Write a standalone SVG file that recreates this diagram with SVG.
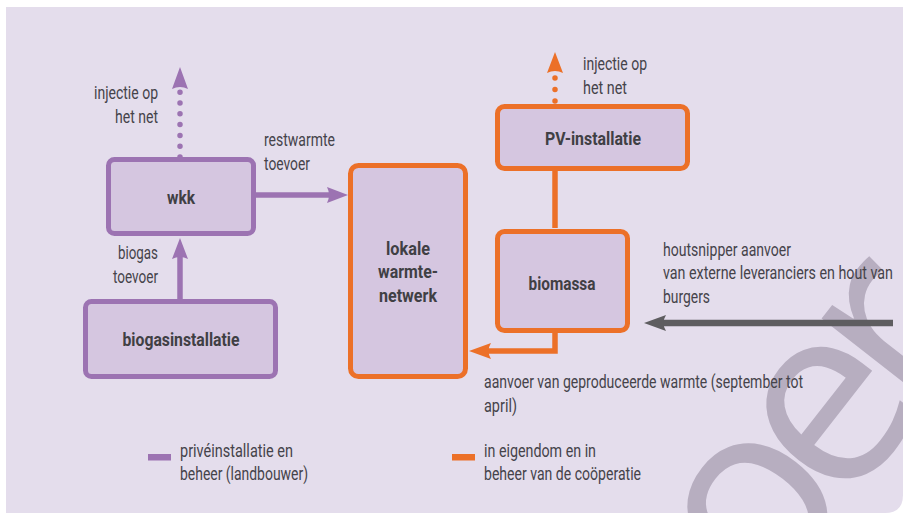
<svg xmlns="http://www.w3.org/2000/svg" width="903" height="513" viewBox="0 0 903 513">
<style>
.t{font-family:Roboto,"Liberation Sans",sans-serif;font-size:19px;fill:#45434a}
.b{font-family:Roboto,"Liberation Sans",sans-serif;font-size:18px;font-weight:bold;fill:#403f44;text-anchor:middle}
.pbox{fill:#d5c6e0;stroke:#9c73b2;stroke-width:5}
.obox{fill:#d5c6e0;stroke:#ec7028;stroke-width:5}
.pl{stroke:#9c73b2;stroke-width:5.5;fill:none}
.ol{stroke:#ec7028;stroke-width:5.5;fill:none}
.pf{fill:#9c73b2}
.of{fill:#ec7028}
</style>
<defs>
<clipPath id="panelClip"><path d="M6,7 H903 V495 Q903,513 885,513 H6 Z"/></clipPath>
</defs>
<rect width="903" height="513" fill="#ffffff"/>
<path d="M6,7 H903 V495 Q903,513 885,513 H6 Z" fill="#e4ddec"/>
<g clip-path="url(#panelClip)">
<text x="764" y="614" transform="rotate(-52 764 614)" font-family="'Open Sans',sans-serif" font-size="255" letter-spacing="-25" fill="#b7aec0">oer</text>
</g>

<g id="connectors">
<line x1="180" y1="157" x2="180" y2="92" stroke="#9c73b2" stroke-width="5.5" stroke-linecap="round" stroke-dasharray="0 10.8"/>
<path class="pf" d="M180,67 L188,89 Q180,85 172,89 Z"/>
<line class="pl" x1="180" y1="299" x2="180" y2="252"/>
<path class="pf" d="M180,238 L188,259 Q180,255 172,259 Z"/>
<line class="pl" x1="256" y1="195" x2="334" y2="195"/>
<path class="pf" d="M348,195 L327,187 Q331,195 327,203 Z"/>
<line x1="555" y1="101" x2="555" y2="77" stroke="#ec7028" stroke-width="5.5" stroke-linecap="round" stroke-dasharray="0 11.5"/>
<path class="of" d="M555,52 L563,73 Q555,69 547,73 Z"/>
<line class="ol" x1="555" y1="171" x2="555" y2="228"/>
<polyline class="ol" points="555,333 555,351 484,351"/>
<path class="of" d="M469,351 L491,343 Q486,351 491,359 Z"/>
<line x1="893" y1="323" x2="658" y2="323" stroke="#5e5d60" stroke-width="6.5"/>
<path d="M644,323 L666,315 Q661,323 666,331 Z" fill="#5e5d60"/>
</g>

<g id="wkk">
<rect class="pbox" x="108.5" y="159.5" width="145" height="74" rx="6"/>
<text class="b" x="181" y="204" textLength="28" lengthAdjust="spacingAndGlyphs">wkk</text>
</g>
<g id="biogasinstallatie">
<rect class="pbox" x="85.5" y="301.5" width="190" height="75" rx="6"/>
<text class="b" x="181" y="346" textLength="117" lengthAdjust="spacingAndGlyphs">biogasinstallatie</text>
</g>
<g id="lokale">
<rect class="obox" x="350.5" y="165.5" width="115" height="211" rx="8"/>
<text class="b" x="408" y="255" textLength="44" lengthAdjust="spacingAndGlyphs">lokale</text>
<text class="b" x="408" y="278" textLength="60" lengthAdjust="spacingAndGlyphs">warmte-</text>
<text class="b" x="408" y="302" textLength="58" lengthAdjust="spacingAndGlyphs">netwerk</text>
</g>
<g id="pv">
<rect class="obox" x="497.5" y="106.5" width="190" height="62" rx="7"/>
<text class="b" x="593" y="145" textLength="96" lengthAdjust="spacingAndGlyphs">PV-installatie</text>
</g>
<g id="biomassa">
<rect class="obox" x="497.5" y="231.5" width="130" height="99" rx="7"/>
<text class="b" x="562" y="290" textLength="67" lengthAdjust="spacingAndGlyphs">biomassa</text>
</g>

<g id="labels">
<text class="t" x="94" y="99" textLength="64" lengthAdjust="spacingAndGlyphs">injectie op</text>
<text class="t" x="115" y="123" textLength="43" lengthAdjust="spacingAndGlyphs">het net</text>
<text class="t" x="264" y="146" textLength="71" lengthAdjust="spacingAndGlyphs">restwarmte</text>
<text class="t" x="264" y="170" textLength="46" lengthAdjust="spacingAndGlyphs">toevoer</text>
<text class="t" x="118" y="259" textLength="40" lengthAdjust="spacingAndGlyphs">biogas</text>
<text class="t" x="113" y="283" textLength="45" lengthAdjust="spacingAndGlyphs">toevoer</text>
<text class="t" x="583" y="70" textLength="64" lengthAdjust="spacingAndGlyphs">injectie op</text>
<text class="t" x="583" y="94" textLength="44" lengthAdjust="spacingAndGlyphs">het net</text>
<text class="t" x="663" y="256" textLength="128" lengthAdjust="spacingAndGlyphs">houtsnipper aanvoer</text>
<text class="t" x="663" y="279" textLength="230" lengthAdjust="spacingAndGlyphs">van externe leveranciers en hout van</text>
<text class="t" x="663" y="303" textLength="47" lengthAdjust="spacingAndGlyphs">burgers</text>
<text class="t" x="484" y="388" textLength="319" lengthAdjust="spacingAndGlyphs">aanvoer van geproduceerde warmte (september tot</text>
<text class="t" x="484" y="412" textLength="33" lengthAdjust="spacingAndGlyphs">april)</text>
</g>

<g id="legend">
<rect x="148" y="454" width="23" height="6.5" fill="#9c73b2"/>
<text class="t" x="180" y="457" textLength="113" lengthAdjust="spacingAndGlyphs">privéinstallatie en</text>
<text class="t" x="180" y="480" textLength="128" lengthAdjust="spacingAndGlyphs">beheer (landbouwer)</text>
<rect x="452" y="454" width="23" height="6.5" fill="#ec7028"/>
<text class="t" x="484" y="457" textLength="112" lengthAdjust="spacingAndGlyphs">in eigendom en in</text>
<text class="t" x="484" y="480" textLength="157" lengthAdjust="spacingAndGlyphs">beheer van de coöperatie</text>
</g>
</svg>
